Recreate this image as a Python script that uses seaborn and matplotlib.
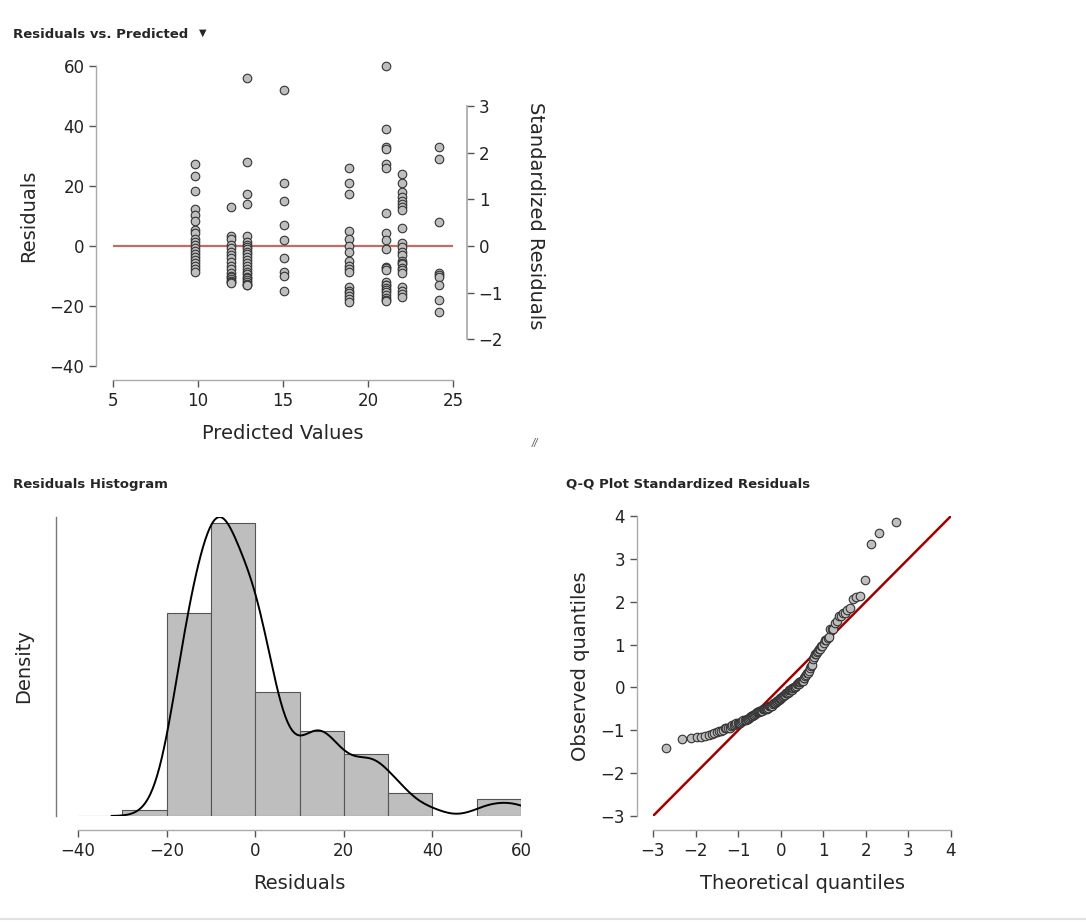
import numpy as np
import pandas as pd
import matplotlib.pyplot as plt
import seaborn as sns
from statistics import NormalDist

sns.set_theme(style="ticks")
plt.rcParams['font.family'] = ['DejaVu Sans']

# predicted value of each group (x position in the residual plot)
predicted = [9.8, 11.95, 12.9, 15.05, 18.9, 21.05, 22.0, 24.15]

# residuals read per group
res_g1 = [27.2, 23.3, 18.3, 12.3, 10.3, 8.3, 5.3, 4.4, 2.3, 1.3, 0.3, -0.8, -1.7,
          -2.7, -3.8, -4.7, -5.7, -6.7, -7.7, -8.6]
res_g2 = [13.1, 3.3, 2.2, 0.3, -0.8, -1.9, -3.0, -4.1, -5.2, -6.7, -7.8, -8.9, -9.9,
          -10.4, -11.0, -11.6, -12.0, -12.2]
res_g3 = [56.1, 28.1, 17.2, 14.1, 3.3, 1.4, 0.5, -0.2, -0.9, -1.9, -2.8, -3.6, -4.6,
          -5.6, -6.6, -7.7, -8.5, -9.3, -10.2, -10.8, -11.4, -11.9, -12.5, -12.9, -13.0]
res_g4 = [52.0, 21.1, 15.1, 7.1, 2.0, -4.0, -8.6, -9.9, -14.9]
res_g5 = [26.1, 21.1, 17.2, 5.1, 2.2, 0.1, -1.9, -4.9, -6.7, -7.7, -8.6, -13.8, -14.9,
          -15.8, -16.7, -17.8, -18.8]
res_g6 = [60.0, 39.0, 33.1, 32.2, 27.2, 25.9, 11.1, 4.2, 2.0, -1.0, -6.9, -7.4, -8.0,
          -11.9, -12.9, -13.0, -14.0, -14.7, -15.3, -16.3, -17.3, -18.0, -18.3]
res_g7 = [24.0, 21.1, 18.1, 16.2, 15.1, 14.0, 13.0, 12.0, 6.1, 1.1, -0.2, -1.9, -3.0,
          -4.9, -5.5, -6.0, -7.4, -8.0, -8.9, -13.8, -14.9, -15.9, -16.9]
res_g8 = [32.9, 28.9, 7.9, -8.9, -9.6, -10.2, -13.1, -18.0, -22.1]

# residual standard error (1 sd = 15.56)
sigma = 15.56

groups = [res_g1, res_g2, res_g3, res_g4, res_g5, res_g6, res_g7, res_g8]
df = pd.DataFrame({
    'predicted': np.repeat(predicted, [len(g) for g in groups]),
    'residual': np.concatenate(groups),
})
df['standardized'] = df['residual'] / sigma

W, H = 1086, 922
POINT = '#bebebe'
EDGE = '#333333'
SPINE = '#aaaaaa'


def px_axes(fig, x0, y0, x1, y1):
    return fig.add_axes([x0 / W, 1 - y1 / H, (x1 - x0) / W, (y1 - y0) / H])


def style_axes(ax, left_off, bottom_off):
    for side in ['top', 'right']:
        ax.spines[side].set_visible(False)
    ax.spines['left'].set_position(('outward', left_off))
    ax.spines['bottom'].set_position(('outward', bottom_off))
    for side in ['left', 'bottom']:
        ax.spines[side].set_color(SPINE)
        ax.spines[side].set_linewidth(1)
    ax.tick_params(axis='both', colors='#555555', labelcolor='#222222', labelsize=12,
                   length=5, width=1, direction='out')
    ax.set_facecolor('white')


fig = plt.figure(figsize=(W / 100, H / 100), dpi=100)
fig.patch.set_facecolor('white')

# ---- Residuals vs. Predicted ----
ax1 = px_axes(fig, 113, 66, 453, 366)
ax1.axhline(0, color='#c46a6a', lw=1.6, zorder=2)
sns.scatterplot(data=df, x='predicted', y='residual', ax=ax1, s=38, color=POINT,
                edgecolor=EDGE, linewidth=0.8, zorder=3, clip_on=False)
ax1.set_xlim(5, 25)
ax1.set_ylim(-40, 60)
ax1.set_xticks([5, 10, 15, 20, 25])
ax1.set_yticks([-40, -20, 0, 20, 40, 60])
style_axes(ax1, 12, 10)
ax1.spines['left'].set_bounds(-40, 60)
ax1.spines['bottom'].set_bounds(5, 25)
ax1.set_xlabel('Predicted Values', fontsize=14, labelpad=10)
ax1.set_ylabel('Residuals', fontsize=14, labelpad=8)

ax1b = ax1.twinx()
ax1b.set_ylim(-40 / sigma, 60 / sigma)
ax1b.set_yticks([-2, -1, 0, 1, 2, 3])
for side in ['top', 'left', 'bottom']:
    ax1b.spines[side].set_visible(False)
ax1b.spines['right'].set_position(('outward', 10))
ax1b.spines['right'].set_bounds(-2, 3)
ax1b.spines['right'].set_color(SPINE)
ax1b.tick_params(axis='y', colors='#555555', labelcolor='#222222', labelsize=12,
                 length=5, width=1)
ax1b.set_ylabel('Standardized Residuals', fontsize=14, rotation=270, labelpad=30)

# ---- Residuals Histogram ----
ax2 = px_axes(fig, 78, 517, 521, 816)
sns.histplot(data=df, x='residual', binwidth=10, binrange=(-40, 60), stat='density',
             color=POINT, edgecolor='#555555', linewidth=0.8, alpha=1, ax=ax2)
sns.kdeplot(data=df, x='residual', bw_adjust=0.6, cut=3, color='black', lw=1.4, ax=ax2)
top = max(max(p.get_height() for p in ax2.patches), ax2.lines[0].get_ydata().max())
ax2.set_xlim(-40, 60)
ax2.set_ylim(0, top)
ax2.set_xticks([-40, -20, 0, 20, 40, 60])
ax2.set_yticks([])
style_axes(ax2, 16, 10)
ax2.spines['left'].set_bounds(0, top)
ax2.spines['left'].set_color('#777777')
ax2.spines['bottom'].set_bounds(-40, 60)
ax2.set_xlabel('Residuals', fontsize=14, labelpad=10)
ax2.set_ylabel('Density', fontsize=14, labelpad=16)

# ---- Q-Q plot ----
n = len(df)
theoretical = [NormalDist().inv_cdf((i - 0.5) / n) for i in range(1, n + 1)]
observed = np.sort(df['standardized'].values)

ax3 = px_axes(fig, 653, 516, 951, 816)
ax3.axline((0, 0), slope=1, color='#a00000', lw=1.8, zorder=2)
sns.scatterplot(x=theoretical, y=observed, ax=ax3, s=38, color=POINT,
                edgecolor=EDGE, linewidth=0.8, zorder=3, clip_on=False)
ax3.set_xlim(-3, 4)
ax3.set_ylim(-3, 4)
ax3.set_xticks(range(-3, 5))
ax3.set_yticks(range(-3, 5))
style_axes(ax3, 11.5, 10)
ax3.spines['left'].set_bounds(-3, 4)
ax3.spines['bottom'].set_bounds(-3, 4)
ax3.set_xlabel('Theoretical quantiles', fontsize=14, labelpad=10)
ax3.set_ylabel('Observed quantiles', fontsize=14, labelpad=8)

# ---- titles and small window details ----
fig.text(13 / W, 1 - 35 / H, 'Residuals vs. Predicted', fontsize=9.5, fontweight='bold',
         va='center', ha='left')
fig.text(199 / W, 1 - 33 / H, '▼', fontsize=7, va='center', ha='left')
fig.text(13 / W, 1 - 484 / H, 'Residuals Histogram', fontsize=9.5, fontweight='bold',
         va='center', ha='left')
fig.text(566 / W, 1 - 484 / H, 'Q-Q Plot Standardized Residuals', fontsize=9.5,
         fontweight='bold', va='center', ha='left')
fig.text(535 / W, 1 - 443 / H, '//', fontsize=7, color='#555555', va='center',
         ha='center', style='italic')
fig.add_artist(plt.Line2D([0, 1], [1 - 919 / H, 1 - 919 / H], color='#e2e2e2', lw=1.5))

fig.savefig('out.png', dpi=100, facecolor='white')
